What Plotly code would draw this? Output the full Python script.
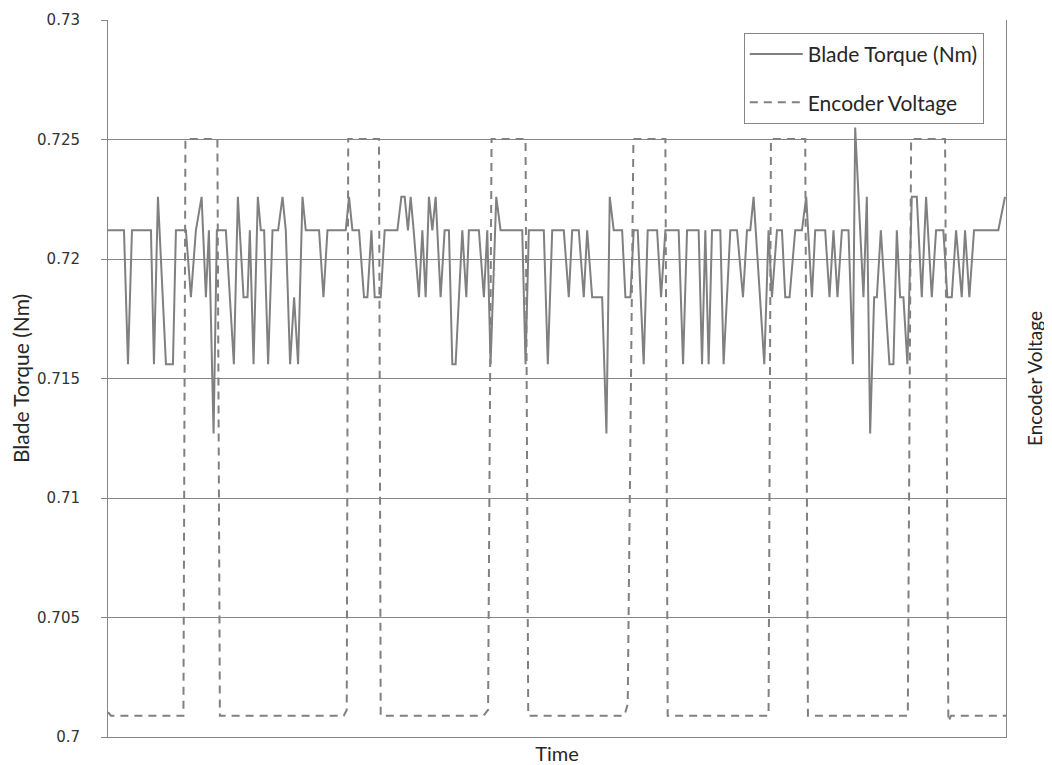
import plotly.graph_objects as go

# ---- Blade torque (Nm): time (sample units) and value at each vertex
torque_time = [
    0, 16, 20, 24, 43, 46, 50, 58, 65, 68, 78, 83, 88, 93.7, 98, 101, 105.7, 109, 118, 126,
    130, 135.7, 139.7, 142, 145.7, 150, 153, 156.3, 160.3, 164.7, 170.3, 174.7, 178, 182.3, 186.3, 190.3,
    194.7, 198, 211.3, 215.7, 219.7, 238, 241.3, 244.7, 251.3, 256.3, 259.7, 263.7, 267, 273,
    277, 289.7, 293.7, 297, 300.3, 303, 306, 311.3, 314.7, 318, 321.3, 324.7, 328, 333, 337,
    341.3, 344.7, 348, 354.7, 358.7, 361.3, 371.3, 376.3, 379.7, 383, 388.7, 393, 414.7, 418,
    421.3, 436.3, 440.3, 444.7, 456.3, 461.3, 464.7, 471.3, 476.3, 479.7, 484.7, 494.7, 499,
    502.3, 506.3, 514.7, 518, 523, 526.3, 530.3, 536.3, 540.3, 549.7, 553.7, 558, 571.3, 575.7,
    579.7, 591.3, 594.7, 598, 601.3, 604.7, 613, 616.3, 623, 629.7, 635.7, 639.7, 643, 646.3,
    657, 661.3, 664.7, 669.7, 674.7, 678, 682.3, 688, 694.7, 699, 704.7, 708, 718, 722.3,
    726.3, 730.3, 734.7, 741.3, 745.7, 748, 756.3, 759.7, 763, 767, 769.7, 773.7, 778, 782.3,
    786.3, 789.7, 793, 796.3, 800.3, 804.7, 809.7, 814.7, 819, 824.7, 829, 836.3, 840.3, 844.7,
    849, 854.7, 858, 862.3, 867, 891.3, 898,
]
torque_nm = [
    0.7212, 0.7212, 0.7156, 0.7212, 0.7212, 0.7156, 0.7226, 0.7156, 0.7156, 0.7212, 0.7212, 0.7184, 0.7212, 0.7226, 0.7184, 0.7212, 0.7127, 0.7212, 0.7212, 0.7156,
    0.7226, 0.7184, 0.7184, 0.7212, 0.7156, 0.7226, 0.7212, 0.7212, 0.7156, 0.7212, 0.7212, 0.7226, 0.7212, 0.7156, 0.7184, 0.7156,
    0.7226, 0.7212, 0.7212, 0.7184, 0.7212, 0.7212, 0.7226, 0.7212, 0.7212, 0.7184, 0.7184, 0.7212, 0.7184, 0.7184,
    0.7212, 0.7212, 0.7226, 0.7226, 0.7212, 0.7226, 0.7212, 0.7184, 0.7212, 0.7184, 0.7226, 0.7212, 0.7226, 0.7184, 0.7212,
    0.7212, 0.7156, 0.7156, 0.7212, 0.7184, 0.7212, 0.7212, 0.7184, 0.7212, 0.7156, 0.7226, 0.7212, 0.7212, 0.7156,
    0.7212, 0.7212, 0.7156, 0.7212, 0.7212, 0.7184, 0.7212, 0.7212, 0.7184, 0.7212, 0.7184, 0.7184, 0.7127,
    0.7226, 0.7212, 0.7212, 0.7184, 0.7184, 0.7212, 0.7212, 0.7156, 0.7212, 0.7212, 0.7184, 0.7212, 0.7212, 0.7156,
    0.7212, 0.7212, 0.7156, 0.7212, 0.7156, 0.7212, 0.7212, 0.7156, 0.7212, 0.7212, 0.7184, 0.7212, 0.7212, 0.7226,
    0.7156, 0.7212, 0.7184, 0.7212, 0.7212, 0.7184, 0.7184, 0.7212, 0.7212, 0.7226, 0.7184, 0.7212, 0.7212, 0.7184,
    0.7212, 0.7184, 0.7212, 0.7212, 0.7156, 0.7255, 0.7184, 0.7226, 0.7127, 0.7184, 0.7184, 0.7212, 0.7184, 0.7156,
    0.7156, 0.7212, 0.7184, 0.7184, 0.7156, 0.7226, 0.7226, 0.7184, 0.7226, 0.7184, 0.7212, 0.7212, 0.7184, 0.7184,
    0.7212, 0.7184, 0.7212, 0.7184, 0.7212, 0.7212, 0.7226,
]

# ---- Encoder voltage (V): square pulses, low ~0 V and high ~5 V
encoder_time = [
    0, 3, 75.5, 77.5, 109.5, 112, 236, 239, 240.5, 271.3, 273, 376, 380.5, 384, 418, 420.7,
    517, 520.3, 526, 558, 560.3, 661.3, 663.7, 698, 700.7, 800.7, 804, 838, 841.3, 844, 899,
]
encoder_volt = [
    0.03, 0.0, 0.0, 5.0, 5.0, 0.0, 0.0, 0.05, 5.0, 5.0, 0.0, 0.0, 0.05, 5.0, 5.0, 0.0,
    0.0, 0.1, 5.0, 5.0, 0.0, 0.0, 5.0, 5.0, 0.0, 0.0, 5.0, 5.0, -0.05, 0.0, 0.0,
]

# ---- axis texts
torque_label = "Blade Torque (Nm)"
encoder_label = "Encoder Voltage"
time_label = "Time"

GRAY = "#868686"
LINE_GRAY = "#808080"
TEXT_FONT = "Lato, 'Open Sans', sans-serif"
TICK_FONT = "'DejaVu Sans', Verdana, sans-serif"

fig = go.Figure()
fig.add_trace(go.Scatter(
    x=torque_time, y=torque_nm, mode="lines", name=torque_label,
    line=dict(color=LINE_GRAY, width=2), legendgroup="a", yaxis="y",
))
fig.add_trace(go.Scatter(
    x=encoder_time, y=encoder_volt, mode="lines", name=encoder_label,
    line=dict(color=LINE_GRAY, width=2, dash="8px,6px"), legendgroup="b", yaxis="y2",
))

# the page body adds an 8px offset, so the figure is 8px smaller and margins shifted
fig.update_layout(
    width=1044, height=757,
    margin=dict(l=100, r=46, t=12, b=28),
    paper_bgcolor="white", plot_bgcolor="white",
    showlegend=True,
    legend=dict(
        x=0.708, y=0.982, xanchor="left", yanchor="top",
        bgcolor="white", bordercolor=GRAY, borderwidth=1,
        font=dict(family=TEXT_FONT, size=21, color="#262626"),
        traceorder="grouped", tracegroupgap=18, itemwidth=53,
    ),
    xaxis=dict(
        range=[0, 899], showgrid=False, zeroline=False, showticklabels=False,
        ticks="", showline=True, linecolor=GRAY, linewidth=1,
        title=dict(text=time_label, font=dict(family=TEXT_FONT, size=20, color="#262626"), standoff=9),
        automargin=False,
    ),
    yaxis=dict(
        range=[0.7, 0.73], dtick=0.005, tick0=0.7, showgrid=True, gridcolor=GRAY, gridwidth=1,
        zeroline=False, showline=True, linecolor=GRAY, linewidth=1,
        ticks="outside", ticklen=6, tickcolor=GRAY, ticklabelstandoff=18,
        tickfont=dict(family=TICK_FONT, size=15, color="#333333"),
        title=dict(text=torque_label, font=dict(family=TEXT_FONT, size=21, color="#262626"), standoff=10),
        automargin=False,
    ),
    yaxis2=dict(
        range=[-0.185, 6.032], overlaying="y", side="right", showgrid=False, zeroline=False,
        showticklabels=False, ticks="", showline=True, linecolor=GRAY, linewidth=1,
        title=dict(text=encoder_label, font=dict(family=TEXT_FONT, size=19, color="#262626"), standoff=22),
        automargin=False,
    ),
)

fig.write_html("out.html")
